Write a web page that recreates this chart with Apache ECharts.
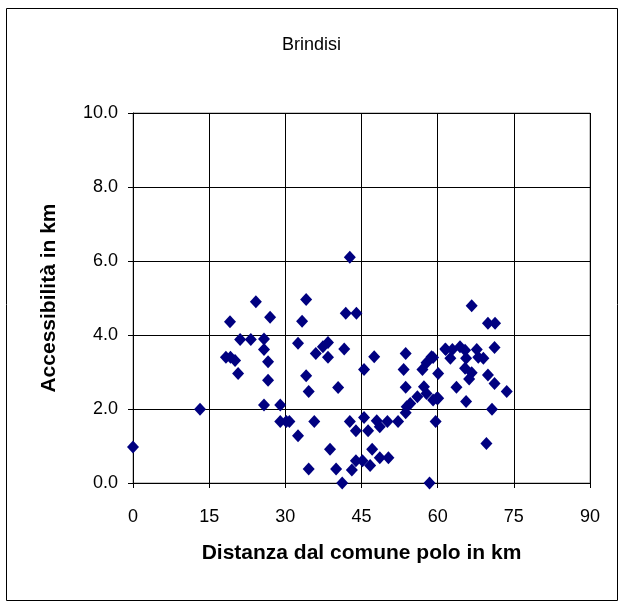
<!DOCTYPE html>
<html><head><meta charset="utf-8">
<script src="https://cdn.jsdelivr.net/npm/echarts@6/dist/echarts.min.js"></script>
<style>html,body{margin:0;padding:0;background:#fff}#c{width:623px;height:602px}</style>
</head><body><div id="c"></div>
<script>
const title = "Brindisi";
const xName = "Distanza dal comune polo in km";
const yName = "Accessibilità in km";
const xTicks = [0, 15, 30, 45, 60, 75, 90];
const yTicks = [0, 2, 4, 6, 8, 10];
const distance = [0, 13.2, 24.2, 19.1, 27.0, 21.1, 23.2, 25.8, 25.8, 26.6, 18.3, 19.2, 20.1, 20.7, 26.6, 25.8, 29.0, 29.0, 30.2,
  30.8, 32.5, 34.6, 35.7, 38.8, 40.0, 41.2, 42.7, 34.1, 33.3, 41.9, 44.0, 32.5, 38.4, 37.4, 36.0, 38.4, 41.6, 47.5,
  34.1, 34.6, 40.4, 45.5, 42.7, 45.5, 43.9, 46.3, 48.0, 48.6, 50.1, 52.2, 47.1, 48.6, 50.3, 43.9, 45.2, 46.7, 43.1, 58.4,
  53.7, 53.3, 53.7, 53.9, 54.6, 53.7, 56.0, 57.3, 57.8, 59.1, 60.1, 59.6, 57.0, 57.8, 58.8, 60.1, 61.5,
  66.7, 69.9, 71.3, 61.6, 62.9, 64.4, 65.4, 67.7, 71.2, 62.5, 65.6, 68.0, 69.0, 59.1, 65.4, 66.7, 66.2, 69.9, 71.2, 73.6,
  63.7, 65.6, 59.8, 70.7, 69.6];
const access = [0.97, 1.99, 4.9, 4.36, 4.48, 3.88, 3.88, 3.89, 3.61, 3.28, 3.40, 3.40, 3.31, 2.96, 2.78, 2.11, 2.11, 1.66, 1.66,
  1.66, 1.28, 0.38, 1.66, 0.91, 0.38, 0.0, 6.1, 4.96, 4.37, 4.59, 4.59, 3.78, 3.80, 3.68, 3.50, 3.40, 3.62, 3.41,
  2.90, 2.47, 2.58, 3.07, 1.66, 1.77, 1.41, 1.41, 1.68, 1.52, 1.66, 1.66, 0.91, 0.68, 0.68, 0.60, 0.60, 0.47, 0.35, 0.0,
  3.50, 3.07, 2.59, 2.06, 2.15, 1.90, 2.33, 2.60, 2.42, 2.24, 2.29, 1.66, 3.07, 3.25, 3.41, 2.96, 3.62,
  4.79, 4.32, 4.32, 3.61, 3.61, 3.68, 3.59, 3.61, 3.66, 3.37, 3.37, 3.40, 3.37, 3.39, 3.10, 2.98, 2.81, 2.92, 2.69, 2.47,
  2.59, 2.20, 2.29, 1.99, 1.07];

const pts = distance.map((d, i) => [d, access[i]]);
const chart = echarts.init(document.getElementById('c'), null, {renderer: 'canvas'});
const font = 'Liberation Sans, Arial, sans-serif';
chart.setOption({
  animation: false,
  backgroundColor: '#fff',
  title: {text: title, left: 'center', top: 31, textStyle: {fontFamily: font, fontSize: 18, fontWeight: 'normal', color: '#000'}},
  grid: {left: 133, right: 33, top: 113, bottom: 119, show: true, borderColor: '#8c8c8c', borderWidth: 1},
  xAxis: {
    type: 'value', min: xTicks[0], max: xTicks[xTicks.length - 1], interval: 15,
    name: xName, nameLocation: 'middle', nameGap: 60,
    nameTextStyle: {fontFamily: font, fontSize: 21, fontWeight: 'bold', color: '#000'},
    axisLine: {show: true, onZero: false, lineStyle: {color: '#000', width: 1}},
    axisTick: {show: true, length: 5, lineStyle: {color: '#000'}},
    axisLabel: {fontFamily: font, fontSize: 18, color: '#000', margin: 25},
    splitLine: {show: true, lineStyle: {color: '#000', width: 1}}
  },
  yAxis: {
    type: 'value', min: yTicks[0], max: yTicks[yTicks.length - 1], interval: 2,
    name: yName, nameLocation: 'middle', nameGap: 73,
    nameTextStyle: {fontFamily: font, fontSize: 21, fontWeight: 'bold', color: '#000'},
    axisLine: {show: true, onZero: false, lineStyle: {color: '#000', width: 1}},
    axisTick: {show: true, length: 5, lineStyle: {color: '#000'}},
    axisLabel: {fontFamily: font, fontSize: 18, color: '#000', margin: 15, formatter: v => v.toFixed(1)},
    splitLine: {show: true, lineStyle: {color: '#000', width: 1}}
  },
  graphic: [{type: 'rect', shape: {x: 6.5, y: 8.5, width: 611, height: 592}, style: {fill: 'none', stroke: '#000', lineWidth: 1}, silent: true}],
  series: [{
    type: 'scatter', data: pts, symbol: 'diamond', symbolSize: [12, 13],
    itemStyle: {color: '#000080', opacity: 1}
  }]
});
</script></body></html>
